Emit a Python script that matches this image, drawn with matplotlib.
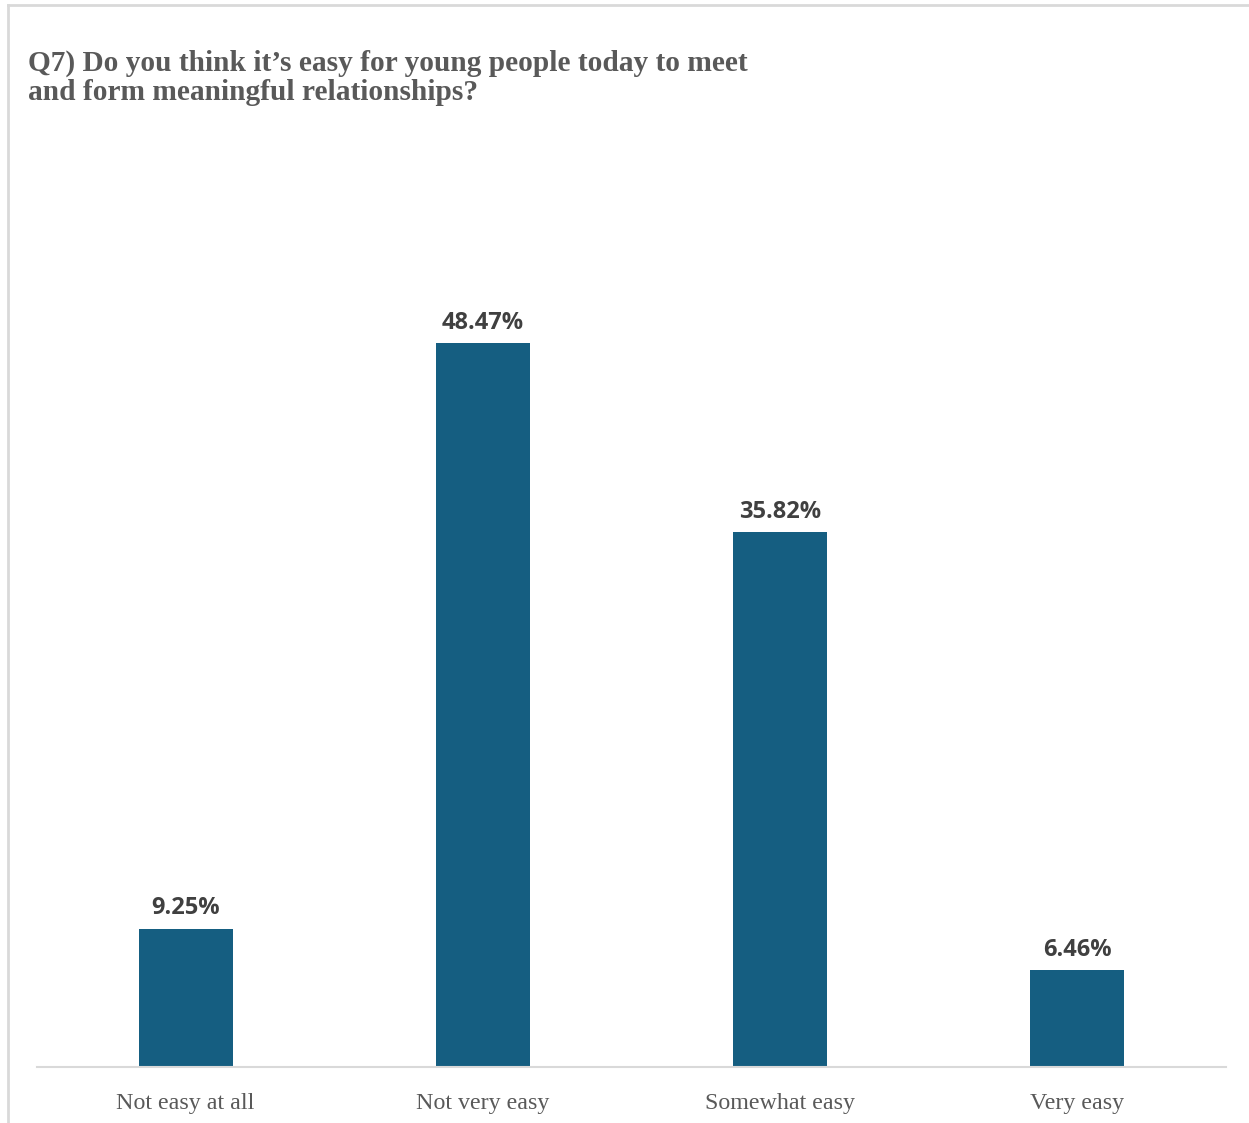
import matplotlib
matplotlib.use("Agg")
import matplotlib.pyplot as plt
from matplotlib.lines import Line2D

# Survey responses (percent of respondents)
categories = ["Not easy at all", "Not very easy", "Somewhat easy", "Very easy"]
shares = [9.25, 48.47, 35.82, 6.46]

title = ("Q7) Do you think it\u2019s easy for young people today to meet\n"
         "and form meaningful relationships?")

W, H, DPI = 1249, 1123, 100
fig = plt.figure(figsize=(W / DPI, H / DPI), dpi=DPI)
fig.patch.set_facecolor("white")

# Frame lines along the top and left edges of the chart area
fig.add_artist(Line2D([8 / W, 1.0], [1 - 5 / H, 1 - 5 / H], color="#d9d9d9",
                      lw=2, transform=fig.transFigure))
fig.add_artist(Line2D([8 / W, 8 / W], [0, 1 - 5 / H], color="#d9d9d9",
                      lw=2, transform=fig.transFigure))

ax_left, ax_right = 37 / W, 1226 / W
ax_bottom = 1 - 1066.5 / H
ax_top = 1 - 171.5 / H
ax = fig.add_axes([ax_left, ax_bottom, ax_right - ax_left, ax_top - ax_bottom])

x = list(range(len(categories)))
bars = ax.bar(x, shares, width=0.316, color="#155e81", zorder=2)
ax.set_xlim(-0.5, len(categories) - 0.5)
ax.set_ylim(0, 60)

for rect, v in zip(bars, shares):
    ax.annotate(f"{v:.2f}%", (rect.get_x() + rect.get_width() / 2, v),
                xytext=(0, 6), textcoords="offset points",
                ha="center", va="bottom", fontsize=17, fontweight="bold",
                family="Open Sans", color="#404040")

ax.set_xticks(x)
ax.set_xticklabels(categories, family="Liberation Serif", fontsize=17.3,
                   color="#595959")
ax.tick_params(axis="x", length=0, pad=19)
ax.set_yticks([])
for s in ("top", "right", "left"):
    ax.spines[s].set_visible(False)
ax.spines["bottom"].set_color("#d9d9d9")
ax.spines["bottom"].set_linewidth(1.5)

fig.text(28 / W, 1 - 50 / H, title, family="Liberation Serif",
         fontweight="bold", fontsize=21.2, color="#595959",
         ha="left", va="top", linespacing=1.1)

fig.savefig("out.png", dpi=DPI)
